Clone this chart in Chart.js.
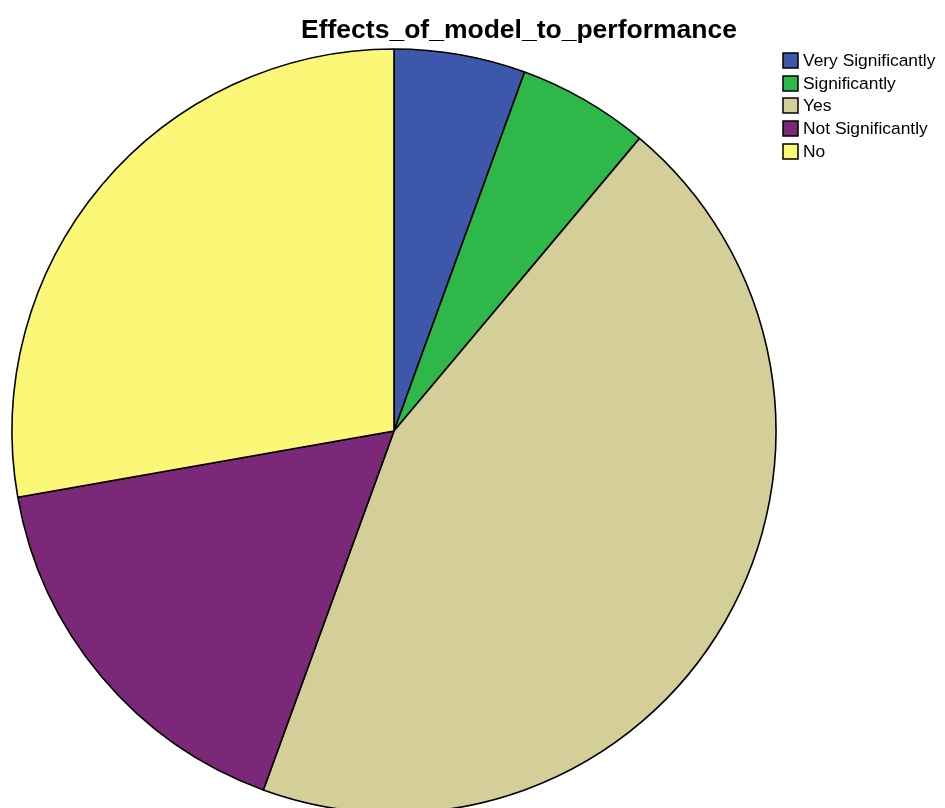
<!DOCTYPE html>
<html>
<head>
<meta charset="utf-8">
<script src="https://cdn.jsdelivr.net/npm/chart.js@4/dist/chart.umd.min.js"></script>
<style>
  html, body { margin: 0; padding: 0; background: #fff; overflow: hidden; }
  #wrap { width: 945px; height: 808px; overflow: hidden; position: relative; }
  canvas { display: block; }
</style>
</head>
<body>
<div id="wrap"><canvas id="c" width="945" height="813"></canvas></div>
<script>
// Responses to "Effects_of_model_to_performance"
const chartTitle = 'Effects_of_model_to_performance';
const categories = ['Very Significantly', 'Significantly', 'Yes', 'Not Significantly', 'No'];
const counts = [1, 1, 8, 3, 5];
const sliceColors = ['#3d58aa', '#2fb84a', '#d4cf98', '#7b2879', '#fbf877'];

const FONT = '"Liberation Sans", Arial, Helvetica, sans-serif';

// Title and legend box drawn on top of the pie
const decorations = {
  id: 'decorations',
  afterDraw(chart) {
    const ctx = chart.ctx;
    ctx.save();
    ctx.fillStyle = '#000';
    ctx.font = 'bold 26.5px ' + FONT;
    ctx.textAlign = 'center';
    ctx.textBaseline = 'alphabetic';
    ctx.fillText(chartTitle, 519, 38);

    const labels = chart.data.labels;
    const colors = chart.data.datasets[0].backgroundColor;
    ctx.font = '17.4px ' + FONT;
    ctx.textAlign = 'left';
    ctx.textBaseline = 'middle';
    labels.forEach((lab, i) => {
      const y = Math.round(53 + i * 22.7);
      ctx.fillStyle = colors[i];
      ctx.fillRect(783, y, 15, 15);
      ctx.strokeStyle = '#000';
      ctx.lineWidth = 1.5;
      ctx.strokeRect(783, y, 15, 15);
      ctx.fillStyle = '#000';
      ctx.fillText(lab, 803, y + 8);
    });
    ctx.restore();
  }
};

new Chart(document.getElementById('c'), {
  type: 'pie',
  data: {
    labels: categories,
    datasets: [{
      data: counts,
      backgroundColor: sliceColors,
      borderColor: '#000',
      borderWidth: 1.6,
      radius: 382
    }]
  },
  options: {
    responsive: false,
    animation: false,
    layout: { padding: { left: 0, right: 157, top: 49, bottom: 0 } },
    plugins: {
      legend: { display: false },
      title: { display: false },
      tooltip: { enabled: false }
    }
  },
  plugins: [decorations]
});
</script>
</body>
</html>
